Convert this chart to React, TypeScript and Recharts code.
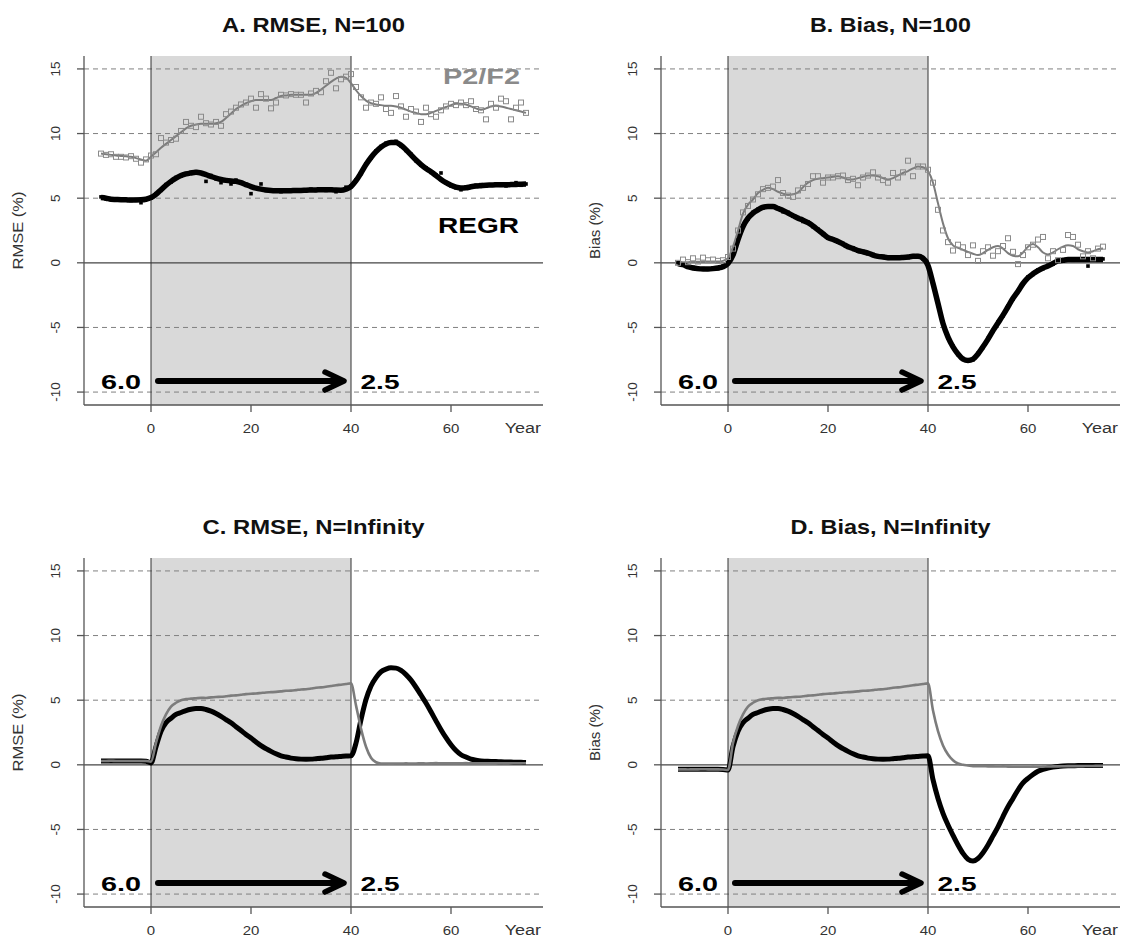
import React from "react";
import {
  ComposedChart,
  Line,
  Scatter,
  XAxis,
  YAxis,
  ReferenceArea,
  ReferenceLine,
  ReferenceDot,
} from "recharts";

// years -10 .. 75 (one value per year in every series below)
const YEARS = [
  -10, -9, -8, -7, -6, -5, -4, -3, -2, -1,
  0, 1, 2, 3, 4, 5, 6, 7, 8, 9,
  10, 11, 12, 13, 14, 15, 16, 17, 18, 19,
  20, 21, 22, 23, 24, 25, 26, 27, 28, 29,
  30, 31, 32, 33, 34, 35, 36, 37, 38, 39,
  40, 41, 42, 43, 44, 45, 46, 47, 48, 49,
  50, 51, 52, 53, 54, 55, 56, 57, 58, 59,
  60, 61, 62, 63, 64, 65, 66, 67, 68, 69,
  70, 71, 72, 73, 74, 75,
];

// A. RMSE, N=100
const A_P2_LINE = [
  8.45, 8.4, 8.35, 8.3, 8.27, 8.24, 8.2, 8.1, 8.0, 7.9,
  8.2, 8.55, 8.9, 9.2, 9.5, 9.8, 10.1, 10.4, 10.6, 10.7,
  10.75, 10.75, 10.75, 10.8, 10.9, 11.2, 11.55, 11.9, 12.15, 12.35,
  12.5, 12.6, 12.6, 12.6, 12.6, 12.75, 12.9, 12.95, 13.0, 13.0,
  13.0, 13.0, 13.0, 13.15, 13.4, 13.7, 14.0, 14.25, 14.4, 14.3,
  13.9, 13.35, 12.9, 12.55, 12.35, 12.25, 12.2, 12.15, 12.15, 12.1,
  12.0, 11.85, 11.7, 11.6, 11.5, 11.5, 11.6, 11.75, 11.9, 12.05,
  12.2, 12.3, 12.3, 12.25, 12.1, 11.95, 11.85, 11.95, 12.1, 12.15,
  12.1, 12.0, 11.9, 11.8, 11.7, 11.6,
];
const A_P2_PTS = [
  8.45, 8.35, 8.4, 8.2, 8.2, 8.15, 8.25, 8.05, 7.75, 8.0,
  8.3, 8.4, 9.65, 9.3, 9.5, 9.6, 10.2, 10.9, 10.6, 10.5,
  11.3, 10.8, 10.7, 10.9, 10.6, 11.5, 11.7, 12.0, 12.25, 12.4,
  12.7, 12.0, 13.05, 12.7, 11.95, 12.4, 13.0, 12.95, 13.05, 13.0,
  13.0, 12.4, 13.1, 13.3, 13.2, 14.05, 14.7, 13.5, 14.2, 14.4,
  14.6, 13.6, 12.8, 12.0, 12.4, 12.3, 12.8, 11.9, 11.6, 12.9,
  12.1, 11.3, 11.9, 11.7, 10.9, 12.0, 11.5, 11.3, 11.8, 12.1,
  12.3, 12.2, 12.4, 12.2, 12.5, 11.9, 11.8, 11.1, 12.3, 12.0,
  12.7, 12.5, 11.1, 12.0, 12.4, 11.6,
];
const A_REGR_LINE = [
  5.05, 5.0, 4.92, 4.9, 4.88, 4.87, 4.86, 4.86, 4.87, 4.92,
  5.05, 5.3, 5.65, 6.0, 6.3, 6.55, 6.75, 6.88, 6.95, 7.0,
  6.95, 6.82, 6.68, 6.55, 6.45, 6.38, 6.33, 6.3, 6.2, 6.05,
  5.9, 5.78, 5.7, 5.64, 5.6, 5.58, 5.57, 5.57, 5.58, 5.6,
  5.6, 5.62, 5.63, 5.64, 5.65, 5.65, 5.65, 5.63, 5.62, 5.7,
  5.9, 6.35, 6.95, 7.6, 8.15, 8.6, 8.95, 9.2, 9.3, 9.3,
  9.1, 8.75, 8.35, 7.95, 7.6, 7.3, 7.05, 6.75, 6.45, 6.2,
  6.0, 5.85, 5.78, 5.8, 5.88, 5.94, 5.97, 6.0, 6.02, 6.04,
  6.04, 6.04, 6.05, 6.06, 6.08, 6.09,
];
const A_REGR_PTS = [
  5.1, 4.95, 4.9, 4.92, 4.85, 4.9, 4.82, 4.9, 4.65, 4.95,
  5.0, 5.35, 5.6, 6.05, 6.25, 6.6, 6.7, 6.9, 7.0, 7.05,
  6.95, 6.3, 6.75, 6.5, 6.2, 6.4, 6.1, 6.4, 6.2, 6.0,
  5.35, 5.8, 6.1, 5.6, 5.55, 5.6, 5.5, 5.62, 5.55, 5.65,
  5.6, 5.58, 5.7, 5.6, 5.68, 5.6, 5.7, 5.5, 5.65, 5.85,
  5.95, 6.4, 6.9, 7.65, 8.1, 8.65, 9.0, 9.25, 9.35, 9.4,
  9.05, 8.7, 8.4, 7.9, 7.55, 7.35, 7.0, 6.8, 6.95, 6.2,
  5.95, 5.8, 5.65, 5.85, 5.9, 6.0, 6.05, 5.95, 6.0, 6.1,
  6.0, 5.95, 6.1, 6.2, 6.0, 6.1,
];

// B. Bias, N=100
const B_P2_LINE = [
  0.0, 0.03, 0.05, 0.07, 0.08, 0.1, 0.1, 0.1, 0.1, 0.15,
  0.35, 1.25, 2.5, 3.8, 4.5, 4.9, 5.4, 5.65, 5.8, 5.7,
  5.5, 5.35, 5.25, 5.3, 5.45, 5.85, 6.2, 6.4, 6.5, 6.55,
  6.6, 6.65, 6.7, 6.6, 6.45, 6.45, 6.55, 6.65, 6.75, 6.75,
  6.7, 6.55, 6.45, 6.55, 6.75, 6.95, 7.1, 7.3, 7.45, 7.4,
  7.1, 6.2, 4.6, 3.05, 1.9, 1.35, 1.15, 1.0, 0.85, 0.7,
  0.6, 0.75, 1.0, 1.2, 1.3, 1.1, 0.75, 0.55, 0.5, 0.8,
  1.25, 1.45, 1.2, 0.8, 0.65, 0.8, 1.05, 1.25, 1.35, 1.3,
  1.05, 0.9, 0.8, 0.9, 1.05, 1.1,
];
const B_P2_PTS = [
  0.0, 0.25, 0.05, 0.35, 0.1, 0.4, 0.2, 0.25, 0.15, 0.2,
  0.45, 1.1, 2.5, 3.9, 4.4, 4.9, 5.3, 5.7, 5.8, 5.9,
  6.4, 5.4, 5.2, 5.1, 5.6, 5.8, 6.1, 6.7, 6.7, 6.2,
  6.6, 6.6, 6.7, 6.75, 6.4, 6.5, 6.0, 6.6, 6.75, 7.0,
  6.6, 6.4, 6.2, 6.95, 6.6, 7.0, 7.9, 6.7, 7.45, 7.45,
  7.2, 6.2, 4.1, 2.5, 1.6, 0.95, 1.4, 1.2, 0.6, 1.35,
  0.15, 0.9, 1.2, 0.55, 0.9, 1.3, 1.9, 0.85, -0.1, 0.6,
  1.2, 1.4, 1.8, 2.0, 0.35, 0.9, 0.2, 1.0, 2.15, 2.0,
  1.4, 0.5, 0.9, 0.35, 1.1, 1.25,
];
const B_REGR_LINE = [
  -0.05, -0.15, -0.3, -0.4, -0.45, -0.47, -0.47, -0.45, -0.4, -0.3,
  -0.05, 0.6, 1.8, 2.8, 3.45, 3.85, 4.1, 4.3, 4.35, 4.35,
  4.2, 4.05, 3.85, 3.65, 3.45, 3.3, 3.1, 2.85, 2.55, 2.25,
  1.95, 1.8, 1.65, 1.45, 1.25, 1.1, 0.95, 0.85, 0.75, 0.6,
  0.5, 0.45, 0.4, 0.4, 0.4, 0.42, 0.45, 0.5, 0.5, 0.35,
  -0.2, -1.6, -3.15, -4.7, -5.75, -6.5, -7.05, -7.45, -7.55, -7.45,
  -7.05, -6.5, -5.9, -5.25, -4.65, -4.05, -3.4, -2.75, -2.2, -1.6,
  -1.15, -0.85, -0.6, -0.4, -0.25, -0.05, 0.15, 0.2, 0.25, 0.25,
  0.25, 0.25, 0.25, 0.25, 0.25, 0.25,
];
const B_REGR_PTS = [
  0.0, -0.1, -0.35, -0.35, -0.5, -0.45, -0.5, -0.4, -0.45, -0.25,
  0.0, 0.65, 1.75, 2.85, 3.4, 3.9, 4.15, 4.25, 4.4, 4.3,
  4.25, 3.95, 3.9, 3.6, 3.5, 3.2, 3.15, 2.8, 2.6, 2.2,
  1.9, 1.85, 1.6, 1.5, 1.2, 1.15, 0.9, 0.9, 0.7, 0.65,
  0.5, 0.5, 0.35, 0.45, 0.4, 0.45, 0.4, 0.55, 0.55, 0.3,
  -0.15, -1.55, -3.2, -4.6, -5.8, -6.45, -7.1, -7.4, -7.6, -7.5,
  -7.0, -6.55, -5.85, -5.3, -4.6, -4.1, -3.35, -2.8, -2.15, -1.65,
  -1.1, -0.9, -0.55, -0.45, -0.2, -0.1, 0.2, 0.15, 0.3, 0.2,
  0.3, 0.25, -0.25, 0.3, 0.2, 0.3,
];

// C. RMSE, N=Infinity
const C_P2_LINE = [
  0.3, 0.3, 0.31, 0.3, 0.3, 0.29, 0.3, 0.3, 0.3, 0.29,
  0.25, 1.7, 3.0, 3.9, 4.5, 4.8, 5.0, 5.08, 5.12, 5.15,
  5.18, 5.17, 5.22, 5.25, 5.26, 5.3, 5.35, 5.37, 5.42, 5.47,
  5.5, 5.52, 5.56, 5.6, 5.62, 5.64, 5.68, 5.73, 5.74, 5.78,
  5.83, 5.85, 5.9, 5.96, 5.99, 6.04, 6.1, 6.16, 6.2, 6.25,
  6.3, 4.6, 2.8, 1.4, 0.55, 0.2, 0.1, 0.1, 0.09, 0.1,
  0.1, 0.11, 0.1, 0.1, 0.12, 0.1, 0.11, 0.13, 0.12, 0.12,
  0.12, 0.11, 0.12, 0.13, 0.12, 0.12, 0.12, 0.11, 0.12, 0.12,
  0.12, 0.11, 0.12, 0.12, 0.12, 0.12,
];
const C_REGR_LINE = [
  0.3, 0.3, 0.3, 0.3, 0.3, 0.3, 0.3, 0.3, 0.3, 0.28,
  0.15, 1.4, 2.6, 3.25, 3.6, 3.9, 4.05, 4.2, 4.3, 4.35,
  4.35, 4.28, 4.15, 3.97, 3.75, 3.5, 3.25, 2.95, 2.65, 2.35,
  2.07, 1.77, 1.48, 1.25, 1.04, 0.85, 0.7, 0.6, 0.52, 0.47,
  0.44, 0.43, 0.44, 0.47, 0.5, 0.55, 0.6, 0.62, 0.65, 0.68,
  0.7, 1.68, 3.5, 5.05, 6.1, 6.75, 7.2, 7.4, 7.5, 7.48,
  7.3, 6.98, 6.55, 6.0, 5.4, 4.78, 4.1, 3.4, 2.72, 2.1,
  1.55, 1.1, 0.78, 0.6, 0.44, 0.36, 0.3, 0.28, 0.26, 0.25,
  0.23, 0.22, 0.21, 0.2, 0.19, 0.18,
];

// D. Bias, N=Infinity
const D_P2_LINE = [
  -0.35, -0.35, -0.36, -0.35, -0.35, -0.34, -0.35, -0.35, -0.35, -0.36,
  -0.4, 1.7, 3.0, 3.9, 4.5, 4.8, 5.0, 5.08, 5.12, 5.15,
  5.18, 5.17, 5.22, 5.25, 5.26, 5.3, 5.35, 5.37, 5.42, 5.47,
  5.5, 5.52, 5.56, 5.6, 5.62, 5.64, 5.68, 5.73, 5.74, 5.78,
  5.83, 5.85, 5.9, 5.96, 5.99, 6.04, 6.1, 6.16, 6.2, 6.25,
  6.3, 4.2, 2.6, 1.5, 0.8, 0.35, 0.1, 0.0, -0.05, -0.1,
  -0.1, -0.1, -0.12, -0.12, -0.13, -0.12, -0.14, -0.15, -0.15, -0.15,
  -0.15, -0.14, -0.15, -0.14, -0.13, -0.12, -0.12, -0.11, -0.1, -0.1,
  -0.1, -0.1, -0.09, -0.09, -0.08, -0.08,
];
const D_REGR_LINE = [
  -0.35, -0.35, -0.35, -0.35, -0.35, -0.35, -0.35, -0.35, -0.35, -0.36,
  -0.4, 1.4, 2.6, 3.25, 3.6, 3.9, 4.05, 4.2, 4.3, 4.35,
  4.35, 4.28, 4.15, 3.97, 3.75, 3.5, 3.25, 2.95, 2.65, 2.35,
  2.07, 1.77, 1.48, 1.25, 1.04, 0.85, 0.7, 0.6, 0.52, 0.47,
  0.44, 0.43, 0.44, 0.47, 0.5, 0.55, 0.6, 0.62, 0.65, 0.68,
  0.7, -1.15, -2.6, -3.75, -4.65, -5.45, -6.2, -6.85, -7.3, -7.45,
  -7.25, -6.8, -6.2, -5.5, -4.8, -4.0, -3.25, -2.6, -1.95, -1.4,
  -1.05, -0.75, -0.5, -0.35, -0.25, -0.18, -0.13, -0.1, -0.08, -0.07,
  -0.06, -0.06, -0.05, -0.05, -0.05, -0.05,
];

const X_TICKS = [0, 20, 40, 60];
const Y_TICKS = [-10, -5, 0, 5, 10, 15];
const DASHED_Y = [15, 10, 5, -5, -10];

const FONT = "'Liberation Sans', Arial, Helvetica, sans-serif";
const GRAY = "#7c7c7c";
const YW = 50;
const XH = 30;

const toSeries = (ys: number[]) => YEARS.map((x, i) => ({ x, y: ys[i] }));

type Geo = { left: number; top: number; w: number; h: number; pl: number; pt: number; pr: number; pb: number };

const GEO_A: Geo = { left: 0, top: 0, w: 560, h: 470, pl: 84, pt: 56, pr: 543, pb: 405 };
const GEO_B: Geo = { left: 560, top: 0, w: 561, h: 470, pl: 101, pt: 56, pr: 560, pb: 405 };
const GEO_C: Geo = { left: 0, top: 470, w: 560, h: 470, pl: 84, pt: 88, pr: 543, pb: 437 };
const GEO_D: Geo = { left: 560, top: 470, w: 561, h: 470, pl: 101, pt: 88, pr: 560, pb: 437 };

function XTick(p: any) {
  return (
    <text
      transform={`translate(${p.x},${p.y + 21}) scale(1.2,1)`}
      textAnchor="middle"
      fontSize={12.5}
      fontFamily={FONT}
      fill="#333"
    >
      {p.payload.value}
    </text>
  );
}

function YTick(p: any) {
  return (
    <text
      transform={`translate(${p.x - 17},${p.y}) rotate(-90)`}
      textAnchor="middle"
      fontSize={13.5}
      fontFamily={FONT}
      fill="#333"
    >
      {p.payload.value}
    </text>
  );
}

const textShape =
  (label: string, width: number, size: number, fill: string) => (p: any) => (
    <text
      x={p.cx}
      y={p.cy}
      fontSize={size}
      fontWeight="bold"
      fontFamily={FONT}
      fill={fill}
      textLength={width}
      lengthAdjust="spacingAndGlyphs"
    >
      {label}
    </text>
  );

const yearShape = (p: any) => (
  <text
    transform={`translate(${p.cx},${p.cy + 28}) scale(1.2,1)`}
    textAnchor="end"
    fontSize={15}
    fontFamily={FONT}
    fill="#333"
  >
    Year
  </text>
);

function Arrow(p: any) {
  const { x1, y1, x2 } = p;
  return (
    <g>
      <line x1={x1} y1={y1} x2={x2 - 3} y2={y1} stroke="#000" strokeWidth={6} strokeLinecap="round" />
      <polyline
        points={`${x2 - 19},${y1 - 9} ${x2},${y1} ${x2 - 19},${y1 + 9}`}
        fill="none"
        stroke="#000"
        strokeWidth={5.5}
        strokeLinecap="round"
        strokeLinejoin="round"
      />
    </g>
  );
}

const openSquare = (p: any) => (
  <rect x={p.cx - 2.5} y={p.cy - 2.5} width={5} height={5} fill="none" stroke="#8a8a8a" strokeWidth={1} />
);
const filledSquare = (p: any) => (
  <rect x={p.cx - 1.8} y={p.cy - 1.8} width={3.6} height={3.6} fill="#000" />
);

interface PanelProps {
  geo: Geo;
  title: string;
  titleW: number;
  yLabel: string;
  yLabelW: number;
  p2Line: number[];
  regrLine: number[];
  p2Pts?: number[];
  regrPts?: number[];
  legend?: boolean;
  thin?: boolean;
}

function Panel({ geo, title, titleW, yLabel, yLabelW, p2Line, regrLine, p2Pts, regrPts, legend, thin }: PanelProps) {
  const margin = {
    top: geo.pt,
    left: geo.pl - YW,
    right: geo.w - geo.pr,
    bottom: geo.h - geo.pb - XH,
  };
  const ymid = (geo.pt + geo.pb) / 2;

  return (
    <div style={{ position: "absolute", left: geo.left, top: geo.top, width: geo.w, height: geo.h }}>
      <ComposedChart width={geo.w} height={geo.h} margin={margin}>
        <XAxis
          type="number"
          dataKey="x"
          domain={[-13.4, 78.4]}
          ticks={X_TICKS}
          allowDataOverflow
          height={XH}
          tickSize={7}
          tickMargin={0}
          tick={XTick}
          stroke="#555"
          strokeWidth={1.3}
        />
        <YAxis
          type="number"
          domain={[-11, 16]}
          ticks={Y_TICKS}
          allowDataOverflow
          width={YW}
          tickSize={7}
          tickMargin={0}
          tick={YTick}
          stroke="#555"
          strokeWidth={1.3}
        />
        <ReferenceArea x1={0} x2={40} y1={-11} y2={16} fill="#d9d9d9" fillOpacity={1} stroke="none" />
        {DASHED_Y.map((v) => (
          <ReferenceLine key={v} y={v} stroke="#808080" strokeWidth={1} strokeDasharray="5 4" />
        ))}
        <ReferenceLine y={0} stroke="#444" strokeWidth={1.2} />
        <ReferenceLine x={0} stroke="#333" strokeWidth={1} />
        <ReferenceLine x={40} stroke="#333" strokeWidth={1} />

        <Line
          data={toSeries(regrLine)}
          dataKey="y"
          type="monotone"
          dot={false}
          stroke="#000"
          strokeWidth={thin ? 5 : 5.5}
          isAnimationActive={false}
        />
        {regrPts && (
          <Scatter data={toSeries(regrPts)} dataKey="y" shape={filledSquare} isAnimationActive={false} />
        )}
        <Line
          data={toSeries(p2Line)}
          dataKey="y"
          type="monotone"
          dot={false}
          stroke={GRAY}
          strokeWidth={thin ? 2.6 : 2}
          isAnimationActive={false}
        />
        {p2Pts && (
          <Scatter data={toSeries(p2Pts)} dataKey="y" shape={openSquare} isAnimationActive={false} />
        )}

        <ReferenceLine segment={[{ x: 1.4, y: -9.15 }, { x: 38.6, y: -9.15 }]} shape={Arrow} />
        <ReferenceDot x={-10} y={-9.8} r={0} shape={textShape("6.0", 40, 21, "#000")} />
        <ReferenceDot x={41.9} y={-9.8} r={0} shape={textShape("2.5", 39, 21, "#000")} />
        {legend && <ReferenceDot x={58.4} y={13.8} r={0} shape={textShape("P2/F2", 77, 22, "#8a8a8a")} />}
        {legend && <ReferenceDot x={57.4} y={2.3} r={0} shape={textShape("REGR", 81, 22, "#000")} />}
        <ReferenceDot x={78} y={-11} r={0} shape={yearShape} />
      </ComposedChart>
      <svg
        width={geo.w}
        height={geo.h}
        style={{ position: "absolute", left: 0, top: 0, pointerEvents: "none" }}
      >
        <text
          x={(geo.pl + geo.pr) / 2 - titleW / 2}
          y={geo.pt - 24.3}
          fontSize={21}
          fontWeight="bold"
          fontFamily={FONT}
          fill="#111"
          textLength={titleW}
          lengthAdjust="spacingAndGlyphs"
        >
          {title}
        </text>
        <text
          transform={`translate(${geo.pl - 61},${ymid + yLabelW / 2}) rotate(-90)`}
          fontSize={14}
          fontFamily={FONT}
          fill="#333"
          textLength={yLabelW}
          lengthAdjust="spacingAndGlyphs"
        >
          {yLabel}
        </text>
      </svg>
    </div>
  );
}

export default function App() {
  return (
    <div style={{ position: "absolute", left: 0, top: 0, width: 1121, height: 940, background: "#fff" }}>
      <Panel
        geo={GEO_A}
        title="A. RMSE, N=100"
        titleW={183}
        yLabel="RMSE (%)"
        yLabelW={78}
        p2Line={A_P2_LINE}
        regrLine={A_REGR_LINE}
        p2Pts={A_P2_PTS}
        regrPts={A_REGR_PTS}
        legend
      />
      <Panel
        geo={GEO_B}
        title="B. Bias, N=100"
        titleW={161}
        yLabel="Bias (%)"
        yLabelW={57}
        p2Line={B_P2_LINE}
        regrLine={B_REGR_LINE}
        p2Pts={B_P2_PTS}
        regrPts={B_REGR_PTS}
      />
      <Panel
        geo={GEO_C}
        title="C. RMSE, N=Infinity"
        titleW={222}
        yLabel="RMSE (%)"
        yLabelW={78}
        p2Line={C_P2_LINE}
        regrLine={C_REGR_LINE}
        thin
      />
      <Panel
        geo={GEO_D}
        title="D. Bias, N=Infinity"
        titleW={200}
        yLabel="Bias (%)"
        yLabelW={57}
        p2Line={D_P2_LINE}
        regrLine={D_REGR_LINE}
        thin
      />
    </div>
  );
}
